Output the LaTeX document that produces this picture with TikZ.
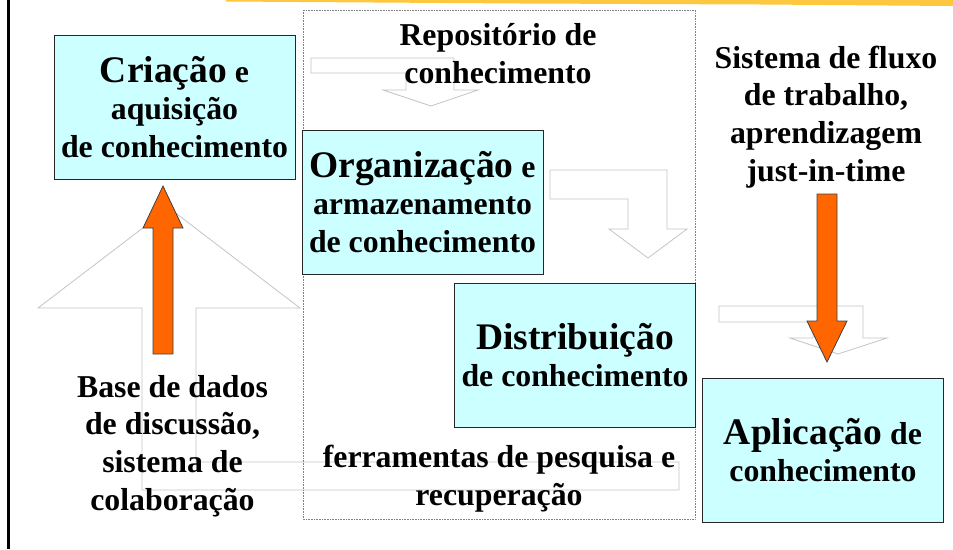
\documentclass[tikz,border=0pt]{standalone}
\usepackage{fontspec}
\setmainfont{Liberation Serif}
\usepackage{tikz}
\definecolor{boxcyan}{RGB}{204,255,255}
\definecolor{arrowgray}{RGB}{196,196,196}
\definecolor{arroworange}{RGB}{255,102,0}
\definecolor{stripe}{RGB}{253,200,64}
\tikzset{
	kbox/.style={draw=black!85, line width=0.9pt, fill=boxcyan, minimum width=241pt, minimum height=144pt, inner sep=0pt, align=center, font=\fontsize{31.8pt}{37.8pt}\selectfont\bfseries},
	lbl/.style={align=center, inner sep=0pt, font=\fontsize{31.8pt}{37.8pt}\selectfont\bfseries},
	grayarrow/.style={draw=arrowgray, line width=0.8pt},
	orangearrow/.style={draw=black!75, fill=arroworange, line width=0.8pt}
}
\newcommand{\grandes}[1]{{\fontsize{37.5pt}{37.8pt}\selectfont #1}}

\begin{document}
\begin{tikzpicture}[x=1pt, y=-1pt]
			\useasboundingbox (0,0) rectangle (953,549);
			\fill[stripe] (226,0) -- (953,0) -- (953,6) -- (760,4.5) -- (520,3.5) -- (226,1.5) -- cycle;
			\draw[line width=2.5pt] (8.7,0) -- (8.7,549);
			
			\draw[grayarrow] (311,58) -- (454,58) -- (454,90) -- (478,90) -- (431,106) -- (383,90) -- (406,90) -- (406,73) -- (311,73) -- cycle;
			\draw[grayarrow] (550,170) -- (667,170) -- (667,229) -- (687,229) -- (648,258) -- (609,229) -- (628,229) -- (628,199) -- (550,199) -- cycle;
			\draw[grayarrow] (719,306) -- (863,306) -- (863,338) -- (887,338) -- (838,354) -- (790,338) -- (813,338) -- (813,322) -- (719,322) -- cycle;
			\draw[grayarrow] (679,462) -- (196,462) -- (196,308) -- (300,308) -- (169,208) -- (38,308) -- (142,308) -- (142,490) -- (679,490) -- cycle;
			\draw[densely dotted, gray, line width=0.6pt] (303,10) rectangle (695,519);
			
			\path (174.5,107) node[kbox] (criacao) {\grandes{Criação} e\\aquisição\\de conhecimento}
			(422.5,202) node[kbox] (organiza) {\grandes{Organização} e\\armazenamento\\de conhecimento}
			(575,355) node[kbox] (distrib) {\grandes{Distribuição}\\de conhecimento}
			(823,450) node[kbox] (aplica) {\grandes{Aplicação} de\\conhecimento};
			
			\draw[orangearrow] (153,354) -- (153,228) -- (143,228) -- (163,186) -- (183,228) -- (173,228) -- (173,354) -- cycle;
			\draw[orangearrow] (817,194) -- (837,194) -- (837,321) -- (847,321) -- (827,362) -- (807,321) -- (817,321) -- cycle;
			
			\path (498,54) node[lbl] (repos) {Repositório de\\conhecimento}
			(826,117) node[lbl] (fluxo) {Sistema de fluxo\\de trabalho,\\aprendizagem\\just-in-time}
			(172.5,446) node[lbl] (basedados) {Base de dados\\de discussão,\\sistema de\\colaboração}
			(499,479) node[lbl] (ferram) {ferramentas de pesquisa e\\recuperação};
		\end{tikzpicture}
\end{document}
